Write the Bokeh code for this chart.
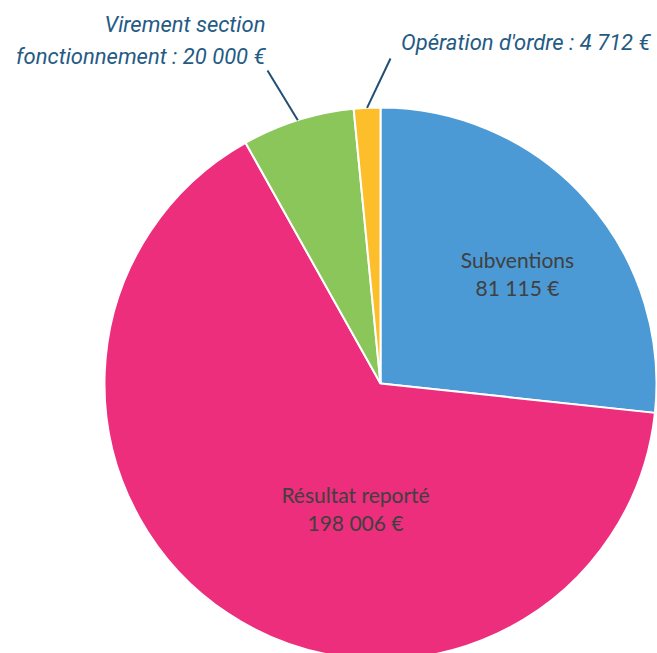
import math
from bokeh.plotting import figure
from bokeh.models import Range1d, ColumnDataSource
from bokeh.core.properties import value
from bokeh.embed import file_html
from bokeh.resources import INLINE

# data (clockwise from 12 o'clock)
categories = ["Subventions", "Résultat reporté", "Virement section fonctionnement", "Opération d'ordre"]
amounts = [81115, 198006, 20000, 4712]
amount_labels = ["81 115 €", "198 006 €", "20 000 €", "4 712 €"]
colors = ["#4B9AD5", "#EC2E7C", "#8BC65B", "#FDBE2C"]

W, H = 657, 653
IH = 653  # image height used to flip y
p = figure(width=W, height=H, output_backend="svg", toolbar_location=None,
           x_range=Range1d(0, W), y_range=Range1d(IH - H, IH),
           min_border=0, match_aspect=False)
p.axis.visible = False
p.grid.visible = False
p.outline_line_color = None
p.background_fill_color = "white"
p.border_fill_color = "white"

cx, cy, R = 380, IH - 383, 276
total = float(sum(amounts))
starts, ends, mids = [], [], []
cum = 0.0
for a in amounts:
    f0 = cum / total
    cum += a
    f1 = cum / total
    starts.append(math.pi / 2 - f1 * 2 * math.pi)
    ends.append(math.pi / 2 - f0 * 2 * math.pi)
    mids.append(math.pi / 2 - (f0 + f1) / 2 * 2 * math.pi)

src = ColumnDataSource(dict(x=[cx] * 4, y=[cy] * 4, s=starts, e=ends, c=colors))
p.wedge(x="x", y="y", radius=R, start_angle="s", end_angle="e", fill_color="c",
        line_color="white", line_width=2, source=src)

inner_font = value("Lato")
p.text(x=[517, 517], y=[IH - 259, IH - 287],
       text=[categories[0], amount_labels[0]], text_align="center",
       text_baseline="middle", text_font=inner_font, text_font_size="21px",
       text_color="#404040")
p.text(x=[355, 355], y=[IH - 494, IH - 522],
       text=[categories[1], amount_labels[1]], text_align="center",
       text_baseline="middle", text_font=inner_font, text_font_size="21px",
       text_color="#404040")

lab_font = value("Roboto")
lab_col = "#245A84"
p.text(x=[265, 265], y=[IH - 24, IH - 56],
       text=["Virement section", "fonctionnement : " + amount_labels[2]],
       text_align="right", text_baseline="middle", text_font=lab_font,
       text_font_style="italic", text_font_size="22px", text_color=lab_col)
p.text(x=[650], y=[IH - 42],
       text=["Opération d'ordre : " + amount_labels[3]],
       text_align="right", text_baseline="middle", text_font=lab_font,
       text_font_style="italic", text_font_size="22px", text_color=lab_col)

for i, (lx, ly) in zip([2, 3], [(267, IH - 70), (390, IH - 58)]):
    ex = cx + R * math.cos(mids[i])
    ey = cy + R * math.sin(mids[i])
    p.line(x=[ex, lx], y=[ey, ly], line_color="#1F4E79", line_width=2)

open("out.html", "w").write(file_html(p, INLINE))
